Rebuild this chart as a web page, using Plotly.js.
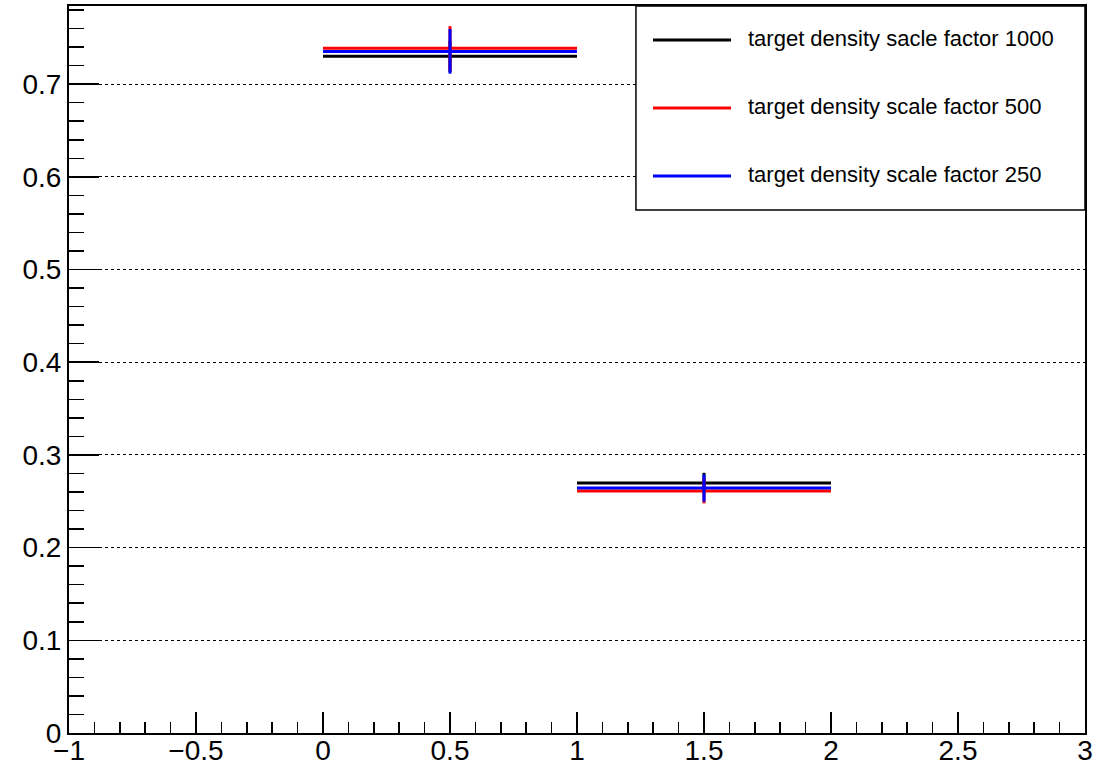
<!DOCTYPE html>
<html>
<head>
<meta charset="utf-8">
<script src="https://cdn.plot.ly/plotly-3.0.1.min.js"></script>
<style>html,body{margin:0;padding:0;background:#fff;}#chart{width:1117px;height:766px;}</style>
</head>
<body>
<div id="chart"></div>
<script>
// Data
const binCenters = [0.5, 1.5];
const binHalfWidths = [0.5, 0.5];
const seriesNames = [
  "target density sacle factor 1000",
  "target density scale factor 500",
  "target density scale factor 250"
];
const seriesColors = ["#000000", "#ff0000", "#0000ff"];
const values1000 = [0.730, 0.2697];
const errors1000 = [0.017, 0.011];
const values500 = [0.7386, 0.2611];
const errors500 = [0.024, 0.0133];
const values250 = [0.7353, 0.2643];
const errors250 = [0.024, 0.0147];

const allValues = [values1000, values500, values250];
const allErrors = [errors1000, errors500, errors250];

const FONT = "Liberation Sans, Arial, Helvetica, sans-serif";

const traces = allValues.map((vals, i) => ({
  type: "scatter",
  mode: "markers",
  x: binCenters,
  y: vals,
  name: seriesNames[i],
  showlegend: false,
  marker: {size: 2, color: seriesColors[i]},
  error_x: {type: "data", array: binHalfWidths, visible: true, color: seriesColors[i], thickness: 3, width: 0},
  error_y: {type: "data", array: allErrors[i], visible: true, color: seriesColors[i], thickness: 3, width: 0}
}));

// Custom legend (ROOT style) in paper coordinates
const shapes = [{
  type: "rect", xref: "paper", yref: "paper",
  x0: 0.558, x1: 1.0, y0: 0.7194, y1: 1.0,
  fillcolor: "#ffffff", line: {color: "#000000", width: 1.5}, layer: "above"
}];
const annotations = [];
const legendRowsY = [0.9532, 0.8597, 0.7662];
seriesNames.forEach((nm, i) => {
  shapes.push({
    type: "line", xref: "paper", yref: "paper",
    x0: 0.5748, x1: 0.6516, y0: legendRowsY[i], y1: legendRowsY[i],
    line: {color: seriesColors[i], width: 3}, layer: "above"
  });
  annotations.push({
    xref: "paper", yref: "paper", x: 0.6660, y: legendRowsY[i] + 0.002,
    xanchor: "left", yanchor: "middle", showarrow: false,
    text: nm, font: {family: FONT, size: 22, color: "#000000"}
  });
});

const layout = {
  width: 1117, height: 766,
  margin: {l: 69, r: 32, t: 6, b: 33, pad: 0},
  paper_bgcolor: "#ffffff", plot_bgcolor: "#ffffff",
  showlegend: false,
  font: {family: FONT, size: 28, color: "#000000"},
  xaxis: {
    range: [-1, 3], tick0: -1, dtick: 0.5,
    ticks: "inside", ticklen: 21, tickwidth: 1.5, tickcolor: "#000000",
    showline: true, linecolor: "#000000", linewidth: 2, mirror: true,
    showgrid: false, zeroline: false,
    ticklabelstandoff: -9,
    tickfont: {family: FONT, size: 28, color: "#000000"},
    minor: {ticks: "inside", ticklen: 11, tickwidth: 1.5, tickcolor: "#000000", dtick: 0.1, tick0: -1, showgrid: false}
  },
  yaxis: {
    range: [0, 0.7843], tick0: 0, dtick: 0.1,
    ticks: "inside", ticklen: 30, tickwidth: 1.5, tickcolor: "#000000",
    showline: true, linecolor: "#000000", linewidth: 2, mirror: true,
    showgrid: true, gridcolor: "#000000", gridwidth: 1, griddash: "dot",
    zeroline: false,
    tickfont: {family: FONT, size: 28, color: "#000000"},
    minor: {ticks: "inside", ticklen: 15, tickwidth: 1.5, tickcolor: "#000000", dtick: 0.02, tick0: 0, showgrid: false}
  },
  shapes: shapes,
  annotations: annotations
};

Plotly.newPlot("chart", traces, layout, {staticPlot: true, displayModeBar: false});
</script>
</body>
</html>
